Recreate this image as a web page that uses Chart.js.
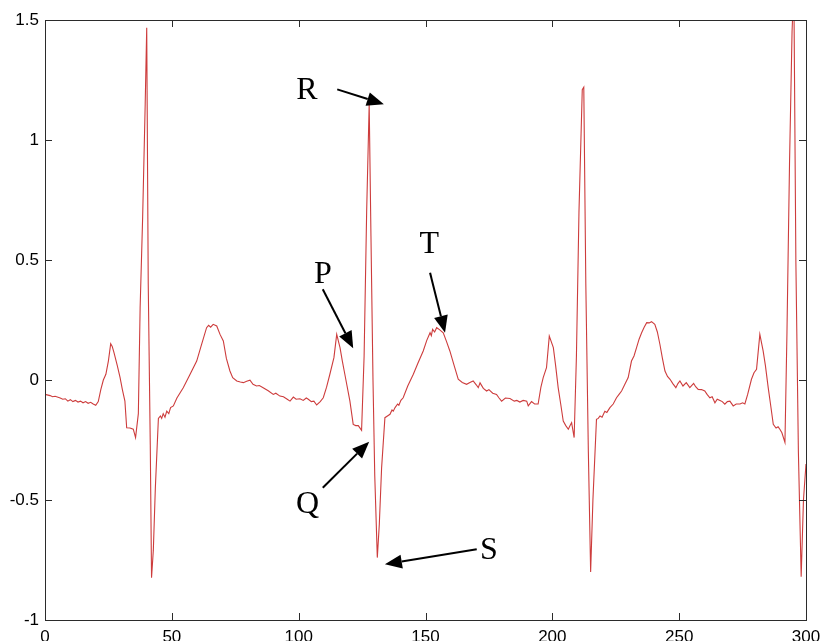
<!DOCTYPE html>
<html>
<head>
<meta charset="utf-8">
<title>ECG</title>
<script src="https://cdn.jsdelivr.net/npm/chart.js@4.4.0/dist/chart.umd.min.js"></script>
<style>
  html, body { margin: 0; padding: 0; background: #fff; }
  #wrap { width: 820px; height: 641px; }
</style>
</head>
<body>
<div id="wrap"><canvas id="ecg" width="820" height="641"></canvas></div>
<script>
// sample positions and amplitude
const sampleX = [
  0, 2, 3, 4, 6, 7, 8, 9, 10, 11, 12, 13, 14, 15, 16, 17, 18, 19, 20, 21, 22, 23, 24, 25, 25.9, 26.5, 27.2, 28.5, 29.6, 30.5,
  31.5, 32.2, 33.5, 34.8, 35.7, 36.8, 37.5, 38.5, 39.5, 40.1, 40.7, 41.5, 42, 42.7, 43.5, 44.7, 45.5, 46, 46.6, 47.3,
  48, 48.8, 49.5, 50.6, 52, 54.5, 57, 59.8, 61.5, 63.7, 64.5, 65.3, 66.3, 67.7, 69, 70.3, 71.5, 72.9, 74, 75.6,
  77, 78.2, 79.5, 80.8, 82, 83.4, 84.5, 86, 88, 90, 91, 92.6, 94, 95.5, 96.6, 97.9, 99, 100.5, 101.8, 103,
  103.8, 105, 106, 107.1, 108.5, 109.7, 111, 112.3, 113.9, 115, 116.3, 117.2, 118.2, 120.2, 121.5, 122.5, 123.5, 124.8, 125.8, 126.8,
  127.8, 128.5, 129.3, 130, 131, 131.8, 132.7, 134, 135, 136, 136.8, 137.3, 138, 139, 139.5, 140.3, 141.2, 143, 145.2, 147,
  149.1, 150.5, 151.8, 152.3, 152.8, 153.6, 154.4, 155.5, 157, 158.3, 159.6, 161.3, 162.9, 164.5, 166.2, 167.5, 168.8, 170, 170.8, 171.5,
  172.8, 174.1, 175, 176.5, 178, 179, 180, 181.5, 183.3, 185, 186, 187.2, 188.5, 189.9, 190.5, 191.8, 193, 194.4, 195.5, 196.4,
  197.7, 198.8, 200.4, 201.3, 202.3, 203.3, 204.3, 205.3, 206.3, 207, 207.6, 208.6, 209.5, 210.5, 211.8, 212.4, 213.2, 214.2, 215.1, 216,
  217.4, 218.1, 218.8, 219.6, 220.7, 221.5, 222.7, 224, 225.3, 226.3, 227.3, 228.5, 229.9, 231.2, 232.2, 233.2, 234.2, 235.2, 236.2, 237.2,
  238.2, 239.1, 240.4, 241.4, 242.4, 243.4, 244.4, 245.4, 246.4, 247.5, 248.7, 249.5, 250.3, 251.5, 252.8, 254.2, 255.7, 256.5, 257.5, 258.8,
  260.1, 261, 262.1, 263, 264.1, 265, 266.1, 267, 268, 269, 270, 271.3, 272.5, 274, 275, 275.9, 277, 278.5, 279.5, 280.5,
  281.8, 283.1, 284, 285.1, 286, 287.1, 288.2, 289, 289.7, 290.5, 291.7, 292.5, 293.5, 294.5, 295.2, 296, 297, 298.1, 299, 300
];
const sampleY = [
  -0.06, -0.065, -0.07, -0.068, -0.075, -0.08, -0.078, -0.088, -0.082, -0.09, -0.085, -0.092, -0.088, -0.095, -0.09, -0.097, -0.093, -0.1, -0.105, -0.09, -0.04, 0.0, 0.024, 0.08, 0.151, 0.14, 0.114, 0.06, 0.01, -0.04,
  -0.088, -0.199, -0.2, -0.205, -0.24, -0.14, 0.3, 0.68, 1.15, 1.468, 0.4, -0.27, -0.824, -0.71, -0.45, -0.16, -0.15, -0.16, -0.14, -0.155,
  -0.13, -0.14, -0.115, -0.108, -0.075, -0.032, 0.02, 0.079, 0.14, 0.218, 0.228, 0.22, 0.232, 0.225, 0.19, 0.1625, 0.09, 0.0375, 0.01, -0.004,
  -0.008, -0.011, -0.005, -0.001, -0.018, -0.025, -0.023, -0.032, -0.045, -0.06, -0.055, -0.067, -0.07, -0.08, -0.088, -0.071, -0.08, -0.078, -0.085, -0.075,
  -0.08, -0.09, -0.088, -0.104, -0.09, -0.074, -0.03, 0.024, 0.093, 0.19, 0.135, 0.08, 0.024, -0.088, -0.185, -0.19, -0.19, -0.21, 0.1, 0.7,
  1.15, 0.6, 0.0, -0.4, -0.74, -0.6, -0.365, -0.157, -0.15, -0.143, -0.125, -0.13, -0.115, -0.1, -0.105, -0.085, -0.074, -0.025, 0.024, 0.07,
  0.121, 0.165, 0.197, 0.185, 0.211, 0.2, 0.218, 0.21, 0.197, 0.16, 0.121, 0.06, 0.003, -0.01, -0.018, -0.01, -0.004, -0.02, -0.032, -0.012,
  -0.035, -0.046, -0.04, -0.055, -0.06, -0.075, -0.088, -0.075, -0.077, -0.088, -0.085, -0.092, -0.085, -0.088, -0.108, -0.09, -0.1, -0.1, -0.03, 0.01,
  0.051, 0.183, 0.135, 0.06, -0.032, -0.1, -0.171, -0.19, -0.205, -0.19, -0.178, -0.24, 0.1, 0.7, 1.21, 1.22, 0.4, -0.3, -0.80, -0.5,
  -0.164, -0.16, -0.15, -0.155, -0.13, -0.135, -0.115, -0.1, -0.074, -0.06, -0.046, -0.02, 0.01, 0.079, 0.1, 0.135, 0.17, 0.197, 0.22, 0.239,
  0.238, 0.243, 0.232, 0.2, 0.149, 0.09, 0.0375, 0.015, 0.003, -0.015, -0.032, -0.015, -0.004, -0.025, -0.011, -0.032, -0.014, -0.028, -0.039, -0.04,
  -0.046, -0.06, -0.074, -0.07, -0.095, -0.08, -0.085, -0.09, -0.101, -0.09, -0.088, -0.108, -0.1, -0.1, -0.095, -0.1, -0.06, 0.003, 0.03, 0.045,
  0.19, 0.121, 0.06, -0.032, -0.1, -0.185, -0.2, -0.195, -0.205, -0.22, -0.26, 0.2, 0.9, 1.45, 1.65, 0.5, -0.3, -0.82, -0.5, -0.35
];

const xTicks = [0, 50, 100, 150, 200, 250, 300];
const yTicks = [-1, -0.5, 0, 0.5, 1, 1.5];

// wave labels and arrows (data units)
const waveNames = ['R', 'P', 'T', 'Q', 'S'];
const nameX = [103.3, 109.6, 151.5, 103.5, 175];
const nameY = [1.171, 0.405, 0.530, -0.553, -0.747];
const arrowFromX = [115.2, 109.5, 151.8, 109.5, 170.2];
const arrowFromY = [1.211, 0.378, 0.447, -0.449, -0.705];
const arrowToX = [133.6, 121.5, 157.7, 127.8, 134.0];
const arrowToY = [1.149, 0.132, 0.197, -0.257, -0.768];

const points = sampleX.map((x, i) => ({ x: x, y: sampleY[i] }));

// box, inward ticks and the labelled arrows
const framePlugin = {
  id: 'frame',
  afterDraw(chart) {
    const ctx = chart.ctx;
    const a = chart.chartArea;
    const xs = chart.scales.x, ys = chart.scales.y;
    ctx.save();
    ctx.strokeStyle = '#2b2b2b';
    ctx.lineWidth = 1;
    ctx.strokeRect(a.left + 0.5, a.top + 0.5, a.right - a.left, a.bottom - a.top);
    ctx.beginPath();
    xTicks.forEach(v => {
      const p = Math.round(xs.getPixelForValue(v)) + 0.5;
      ctx.moveTo(p, a.bottom); ctx.lineTo(p, a.bottom - 7);
      ctx.moveTo(p, a.top); ctx.lineTo(p, a.top + 7);
    });
    yTicks.forEach(v => {
      const p = Math.round(ys.getPixelForValue(v)) + 0.5;
      ctx.moveTo(a.left, p); ctx.lineTo(a.left + 7, p);
      ctx.moveTo(a.right, p); ctx.lineTo(a.right - 7, p);
    });
    ctx.stroke();

    ctx.fillStyle = '#000';
    ctx.strokeStyle = '#000';
    ctx.font = '32px "Liberation Serif", "Times New Roman", serif';
    ctx.textAlign = 'center';
    ctx.textBaseline = 'alphabetic';
    waveNames.forEach((n, i) => {
      ctx.fillText(n, xs.getPixelForValue(nameX[i]), ys.getPixelForValue(nameY[i]));
      const x0 = xs.getPixelForValue(arrowFromX[i]), y0 = ys.getPixelForValue(arrowFromY[i]);
      const x1 = xs.getPixelForValue(arrowToX[i]), y1 = ys.getPixelForValue(arrowToY[i]);
      const ang = Math.atan2(y1 - y0, x1 - x0);
      const hl = 17, hw = 7;
      const bx = x1 - hl * Math.cos(ang), by = y1 - hl * Math.sin(ang);
      ctx.lineWidth = 2;
      ctx.beginPath();
      ctx.moveTo(x0, y0); ctx.lineTo(bx, by);
      ctx.stroke();
      ctx.beginPath();
      ctx.moveTo(x1, y1);
      ctx.lineTo(bx + hw * Math.sin(ang), by - hw * Math.cos(ang));
      ctx.lineTo(bx - hw * Math.sin(ang), by + hw * Math.cos(ang));
      ctx.closePath();
      ctx.fill();
    });
    ctx.restore();
  }
};

const tickFont = { family: '"Liberation Sans", Arial, sans-serif', size: 17 };

new Chart(document.getElementById('ecg').getContext('2d'), {
  type: 'line',
  data: {
    datasets: [{
      data: points,
      borderColor: 'rgb(205, 60, 60)',
      borderWidth: 1.1,
      pointRadius: 0,
      tension: 0,
      fill: false
    }]
  },
  options: {
    responsive: false,
    animation: false,
    layout: { padding: { top: 20, right: 14, left: 0, bottom: 0 } },
    plugins: { legend: { display: false }, tooltip: { enabled: false } },
    scales: {
      x: {
        type: 'linear', min: 0, max: 300,
        grid: { display: false, drawTicks: false },
        border: { display: false },
        afterBuildTicks(s) { s.ticks = xTicks.map(v => ({ value: v })); },
        afterFit(s) { s.height = 21; s.paddingLeft = 0; s.paddingRight = 0; },
        ticks: { color: '#000', font: tickFont, padding: 7, maxRotation: 0, autoSkip: false }
      },
      y: {
        type: 'linear', min: -1, max: 1.5,
        grid: { display: false, drawTicks: false },
        border: { display: false },
        afterBuildTicks(s) { s.ticks = yTicks.map(v => ({ value: v })); },
        afterFit(s) { s.width = 45; s.paddingTop = 0; s.paddingBottom = 0; },
        ticks: { color: '#000', font: tickFont, padding: 6, callback: v => String(v) }
      }
    }
  },
  plugins: [framePlugin]
});
</script>
</body>
</html>
